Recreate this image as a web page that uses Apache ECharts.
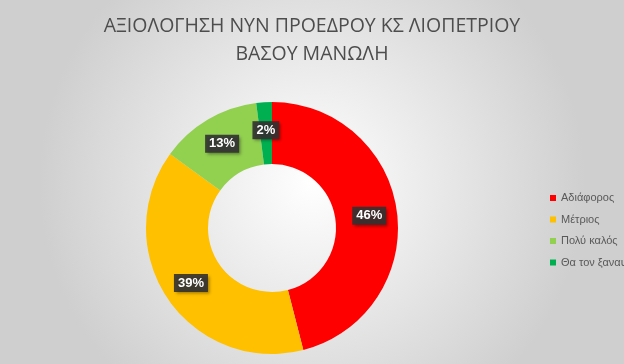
<!DOCTYPE html>
<html><head><meta charset="utf-8">
<script src="https://cdn.jsdelivr.net/npm/echarts@6/dist/echarts.min.js"></script>
<style>html,body{margin:0;padding:0;}#c{width:624px;height:364px;}</style>
</head><body><div id="c"></div>
<script>
const titleText = 'ΑΞΙΟΛΟΓΗΣΗ ΝΥΝ ΠΡΟΕΔΡΟΥ ΚΣ ΛΙΟΠΕΤΡΙΟΥ\nΒΑΣΟΥ ΜΑΝΩΛΗ';
const categories = ['Αδιάφορος', 'Μέτριος', 'Πολύ καλός', 'Θα τον ξαναψήφιζα'];
const values = [46, 39, 13, 2];
const colors = ['#ff0000', '#ffc000', '#92d050', '#00b050'];

const chart = echarts.init(document.getElementById('c'));
chart.setOption({
  backgroundColor: {
    type: 'radial', x: 0.5, y: 0.5, r: 0.75,
    colorStops: [{offset: 0, color: '#ffffff'}, {offset: 1, color: '#cfcfcf'}]
  },
  color: colors,
  title: {
    text: titleText, left: 'center', top: 7,
    textStyle: {fontFamily: 'Open Sans', fontWeight: 'normal', fontSize: 19.5, color: '#4d4d4d', lineHeight: 28}
  },
  legend: {
    orient: 'vertical', left: 545, top: 186,
    icon: 'rect', itemWidth: 6, itemHeight: 6, itemGap: 7.5,
    textStyle: {fontFamily: 'Liberation Sans', fontSize: 11, lineHeight: 14, color: '#595959'},
    data: categories
  },
  series: [{
    type: 'pie', center: [272, 228], radius: [64, 126],
    startAngle: 90, clockwise: true, silent: true,
    data: categories.map((n, i) => ({name: n, value: values[i]})),
    label: {
      show: true, position: 'inside',
      formatter: p => p.value + '%',
      color: '#ffffff', fontWeight: 'bold', fontSize: 13, fontFamily: 'Liberation Sans',
      backgroundColor: 'rgba(50,50,50,0.9)', padding: [3, 4, 2, 4],
      shadowColor: 'rgba(0,0,0,0.4)', shadowBlur: 3, shadowOffsetX: 2, shadowOffsetY: 2
    },
    labelLine: {show: false},
    itemStyle: {borderWidth: 0}
  }]
});
</script></body></html>
